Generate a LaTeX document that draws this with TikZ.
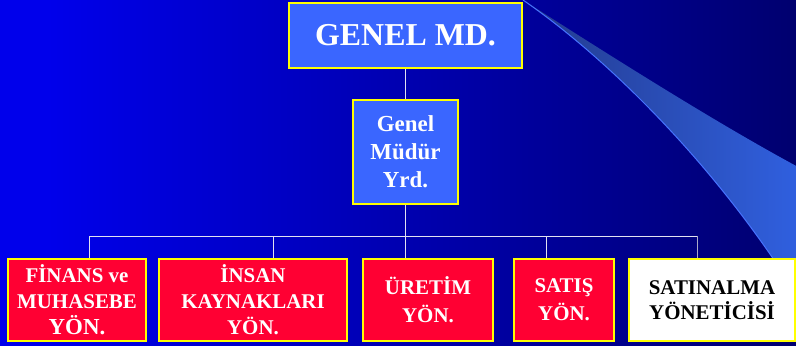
\documentclass[tikz,border=0pt]{standalone}
\usepackage{fontspec}
\setmainfont{Liberation Serif}

\definecolor{bgleft}{RGB}{0,0,235}
\definecolor{bgright}{RGB}{0,0,45}
\definecolor{boxblue}{RGB}{58,102,255}
\definecolor{boxred}{RGB}{255,0,51}
\definecolor{rimyellow}{RGB}{255,255,0}
\definecolor{swooshdark}{RGB}{35,58,140}
\definecolor{swooshlight}{RGB}{48,96,224}
\definecolor{swooshedge}{RGB}{70,115,255}
\definecolor{wirecol}{RGB}{225,225,240}
\definecolor{wiregray}{RGB}{170,170,200}

\pgfdeclarehorizontalshading{bgshade}{100bp}{color(0bp)=(bgleft); color(28bp)=(bgleft); color(100bp)=(bgright)}

\begin{document}
\begin{tikzpicture}[x=1bp, y=-1bp,
    unit/.style={draw=rimyellow, line width=1.5bp, inner sep=0pt, align=center, text=white, font={\bfseries\fontsize{21}{26}\selectfont}},
    bluebox/.style={unit, fill=boxblue},
    redbox/.style={unit, fill=boxred, minimum height=82bp},
    whitebox/.style={unit, fill=white, text=black, minimum height=82bp},
    link/.style={draw=wirecol, line width=1bp}]
    \useasboundingbox (0, 0) rectangle (796, 345);
    \shade[shading=bgshade] (0, 0) rectangle (796, 345);

    \begin{scope}
        \clip (0, 0) rectangle (796, 345);
        \shade[left color=swooshdark, right color=swooshlight] (523, 0) .. controls (620, 62) and (720, 125) .. (800, 168) -- (800, 300) .. controls (720, 170) and (610, 60) .. (523, 0) -- cycle;
        \draw[swooshedge, line width=1bp] (523, 0) .. controls (610, 60) and (720, 170) .. (800, 300);
    \end{scope}

    \node[bluebox, minimum width=233bp, minimum height=65bp, font={\bfseries\fontsize{32}{36}\selectfont}] (gm) at (405.5, 35.5) {GENEL MD.};
    \node[bluebox, minimum width=105bp, minimum height=104bp, font={\bfseries\fontsize{23}{28}\selectfont}] (gmy) at (405.5, 152) {Genel\\Müdür\\Yrd.};

    \node[redbox, minimum width=138bp] (finans) at (77, 300) {FİNANS ve\\MUHASEBE\\{\fontsize{23}{26}\selectfont YÖN.}};
    \node[redbox, minimum width=188bp] (insan) at (253, 300) {İNSAN\\KAYNAKLARI\\YÖN.};
    \node[redbox, minimum width=130bp, font={\bfseries\fontsize{21}{28}\selectfont}] (uretim) at (428, 300) {ÜRETİM\\YÖN.};
    \node[redbox, minimum width=100bp, font={\bfseries\fontsize{21}{28}\selectfont}] (satis) at (564, 300) {SATIŞ\\YÖN.};
    \node[whitebox, minimum width=166bp, font={\bfseries\fontsize{21}{25}\selectfont}] (satinalma) at (712, 300) {SATINALMA\\YÖNETİCİSİ};

    \coordinate (d1) at (89, 236);
    \coordinate (d2) at (273, 236);
    \coordinate (d3) at (405.5, 236);
    \coordinate (d4) at (546, 236);
    \coordinate (d5) at (697, 236);

    \draw[link] (gm) -- (gmy);
    \draw[link] (gmy) -- (d3);
    \draw[link] (d1) -- (d5);
    \draw[link] (d1) -- (d1 |- finans.north);
    \draw[link] (d2) -- (d2 |- insan.north);
    \draw[link] (d3) -- (d3 |- uretim.north);
    \draw[link] (d4) -- (d4 |- satis.north);
    \draw[link, draw=wiregray] (d5) -- (d5 |- satinalma.north);
  \end{tikzpicture}
\end{document}
